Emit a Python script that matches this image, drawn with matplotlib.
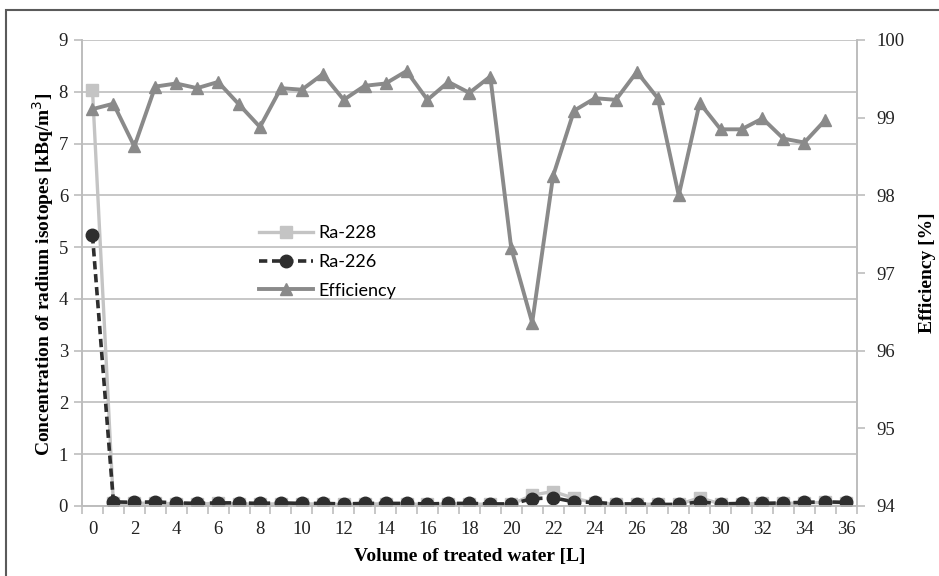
import matplotlib
matplotlib.use("Agg")
import matplotlib.pyplot as plt
from matplotlib.patches import Rectangle
import numpy as np

volume = list(range(37))
ra228 = [8.04, 0.05, 0.05, 0.06, 0.04, 0.04, 0.05, 0.04, 0.04, 0.04, 0.04, 0.04, 0.03,
         0.04, 0.04, 0.04, 0.03, 0.04, 0.04, 0.03, 0.03, 0.21, 0.28, 0.15, 0.06, 0.04,
         0.04, 0.03, 0.03, 0.16, 0.04, 0.04, 0.05, 0.05, 0.06, 0.07, 0.06]
ra226 = [5.23, 0.08, 0.07, 0.08, 0.06, 0.05, 0.06, 0.06, 0.05, 0.06, 0.05, 0.05, 0.04,
         0.05, 0.05, 0.05, 0.04, 0.05, 0.05, 0.04, 0.04, 0.14, 0.16, 0.08, 0.07, 0.04,
         0.04, 0.03, 0.03, 0.08, 0.04, 0.05, 0.05, 0.06, 0.07, 0.08, 0.07]
eff_volume = list(range(36))
efficiency = [99.11, 99.18, 98.63, 99.40, 99.44, 99.38, 99.46, 99.17, 98.88, 99.38,
              99.36, 99.56, 99.23, 99.41, 99.44, 99.60, 99.23, 99.46, 99.32, 99.53,
              97.32, 96.36, 98.25, 99.09, 99.25, 99.23, 99.59, 99.25, 98.00, 99.19,
              98.85, 98.85, 98.99, 98.73, 98.68, 98.97]
x_ticks = list(range(0, 37, 2))
left_ticks = list(range(0, 10))
right_ticks = list(range(94, 101))

serif = "Liberation Serif"
W, H = 939, 576
fig = plt.figure(figsize=(W / 100, H / 100), dpi=100)

# outer frame
fig.patches.append(Rectangle((6 / W, -0.05), 1.2, 1 - 10 / H + 0.05, transform=fig.transFigure,
                             fill=False, edgecolor="#5a5a5a", linewidth=1.5))

L, R, T, B = 82, 856.7, 40, 506
ax = fig.add_axes([L / W, 1 - B / H, (R - L) / W, (B - T) / H])
ax2 = ax.twinx()

grid_c = "#bdbdbd"
ax.set_xlim(-0.5, 36.5)
ax.set_ylim(0, 9)
ax2.set_ylim(94, 100)
ax.set_yticks(left_ticks)
ax2.set_yticks(right_ticks)
ax.set_xticks(x_ticks)
ax.set_xticks(np.arange(-0.5, 37, 1), minor=True)
ax.grid(axis="y", color=grid_c, linewidth=1.2)
ax.set_axisbelow(True)

tick_fs = 13.5
for a in (ax, ax2):
    a.spines["top"].set_visible(False)
    for s in ("left", "right", "bottom"):
        a.spines[s].set_color(grid_c)
        a.spines[s].set_linewidth(1.2)
    a.tick_params(axis="y", colors=grid_c, labelcolor="#222222", length=6, width=1.2,
                  labelsize=tick_fs)
ax.tick_params(axis="y", pad=4)
ax2.tick_params(axis="y", pad=8.5)
ax.tick_params(axis="x", which="major", length=0, labelsize=tick_fs, labelcolor="#222222",
               pad=11)
ax.tick_params(axis="x", which="minor", length=6, width=1.2, color=grid_c)
for lab in ax.get_xticklabels() + ax.get_yticklabels() + ax2.get_yticklabels():
    lab.set_fontfamily(serif)

l1, = ax.plot(volume, ra228, color="#c4c4c4", lw=2.4, marker="s", ms=8, mec="#c4c4c4",
              mfc="#c4c4c4", label="Ra-228", zorder=3)
l2, = ax.plot(volume, ra226, color="#2e2e2e", lw=2.6, ls=(0, (2.3, 1.3)), marker="o", ms=9,
              mfc="#2e2e2e", mec="#2e2e2e", label="Ra-226", zorder=4)
l3, = ax2.plot(eff_volume, efficiency, color="#8a8a8a", lw=2.8, marker="^", ms=9,
               mfc="#8a8a8a", mec="#8a8a8a", label="Efficiency", zorder=3)

lab_fs = 14
fig.text(470 / W, 1 - 557 / H, "Volume of treated water [L]", fontfamily=serif,
         fontweight="bold", fontsize=lab_fs, ha="center", va="center")
fig.text(43 / W, 1 - 274 / H, "Concentration of radium isotopes [kBq/m$^3$]",
         fontfamily=serif, fontweight="bold", fontsize=lab_fs, ha="center", va="center",
         rotation=90)
fig.text(928 / W, 1 - 273 / H, "Efficiency [%]", fontfamily=serif, fontweight="bold",
         fontsize=lab_fs, ha="center", va="center", rotation=90)

leg = ax2.legend(handles=[l1, l2, l3], loc="upper left",
                 bbox_to_anchor=(243 / W, 1 - 209 / H), bbox_transform=fig.transFigure,
                 frameon=False, handlelength=3.0, labelspacing=0.7, handletextpad=0.3,
                 prop={"family": "Lato", "size": 13})

fig.savefig("out.png", dpi=100)
